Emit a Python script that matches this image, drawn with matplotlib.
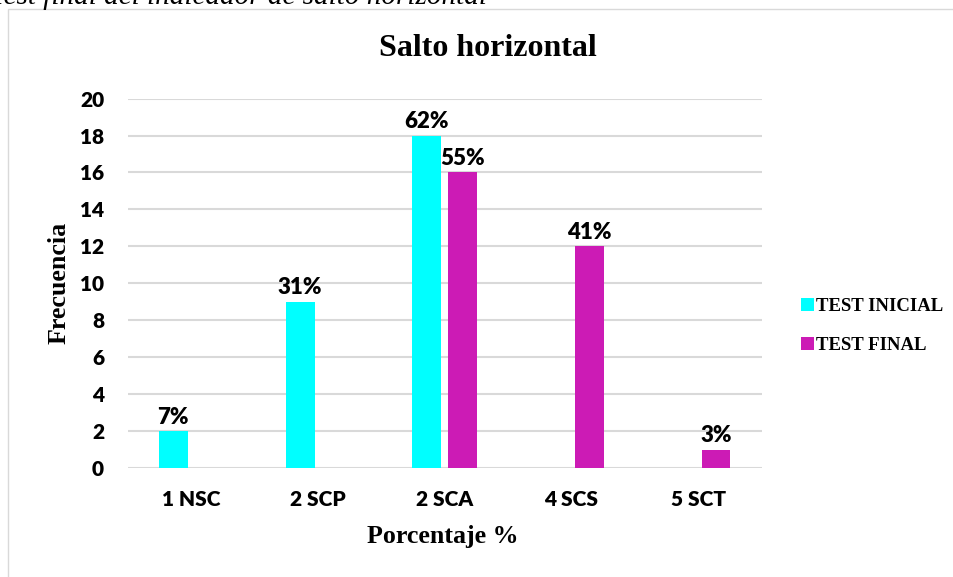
import matplotlib.pyplot as plt
from matplotlib.patches import Rectangle
import numpy as np

categorias = ['1 NSC', '2 SCP', '2 SCA', '4 SCS', '5 SCT']
test_inicial = [2, 9, 18, 0, 0]
test_final = [0, 0, 16, 12, 1]
etiq_inicial = ['7%', '31%', '62%', '', '']
etiq_final = ['', '', '55%', '41%', '3%']

cian = '#00FFFF'
magenta = '#CC1BB5'
serif = 'Liberation Serif'
sans = 'Lato'

fig = plt.figure(figsize=(9.54, 5.77), dpi=100)
W, H = 954, 577

# marco del grafico
fig.patches.append(Rectangle((8.5 / W, -0.1), 1.1, 1 - 9 / 577 + 0.1,
                             transform=fig.transFigure, fill=False,
                             edgecolor='#D9D9D9', linewidth=1))

# leyenda de figura (cortada arriba, como en la captura)
fig.text(487 / W, 1 - 4 / H, 'Test final del indicador de salto horizontal',
         ha='right', va='baseline', fontsize=21, family=serif, style='italic')

ax = fig.add_axes([127.7 / W, 1 - 468 / H, (761.6 - 127.7) / W, (468 - 98.6) / H])

x = np.arange(len(categorias))
ancho = 0.228
desp = 0.14
b1 = ax.bar(x - desp, test_inicial, ancho, color=cian, label='TEST INICIAL', zorder=3)
b2 = ax.bar(x + desp, test_final, ancho, color=magenta, label='TEST FINAL', zorder=3)

for barras, etiquetas in [(b1, etiq_inicial), (b2, etiq_final)]:
    for barra, et in zip(barras, etiquetas):
        if et:
            ax.annotate(et, (barra.get_x() + barra.get_width() / 2, barra.get_height()),
                        xytext=(0, 2.5), textcoords='offset points', ha='center',
                        va='bottom', fontsize=16, fontweight='heavy', family=sans)

ax.set_xlim(-0.5, 4.5)
ax.set_ylim(0, 20)
ax.set_yticks(range(0, 21, 2))
ax.set_xticks(x)
ax.set_xticklabels(categorias)
for s in ax.spines.values():
    s.set_visible(False)
ax.yaxis.grid(True, color='#D9D9D9', linewidth=1.5, zorder=0)
ax.tick_params(length=0)
ax.tick_params(axis='y', pad=17)
ax.tick_params(axis='x', pad=16)
for t in ax.get_xticklabels() + ax.get_yticklabels():
    t.set_family(sans)
    t.set_fontweight('heavy')
    t.set_fontsize(15)

fig.text(488 / W, 1 - 48 / H, 'Salto horizontal', ha='center', va='center',
         fontsize=23, fontweight='bold', family=serif)
fig.text(59 / W, 1 - 283 / H, 'Frecuencia', ha='center', va='center', rotation=90,
         fontsize=18.7, fontweight='bold', family=serif)
fig.text(443 / W, 1 - 537 / H, 'Porcentaje %', ha='center', va='center',
         fontsize=18.7, fontweight='bold', family=serif)

leg = fig.legend(handles=[b1, b2], loc='center left', bbox_to_anchor=(784 / W, 1 - 326 / H),
                 frameon=False, prop={'family': serif, 'weight': 'bold', 'size': 13.5},
                 handlelength=0.7, handleheight=0.7, handletextpad=0.1, labelspacing=1.15)

fig.savefig('out.png', dpi=100)
